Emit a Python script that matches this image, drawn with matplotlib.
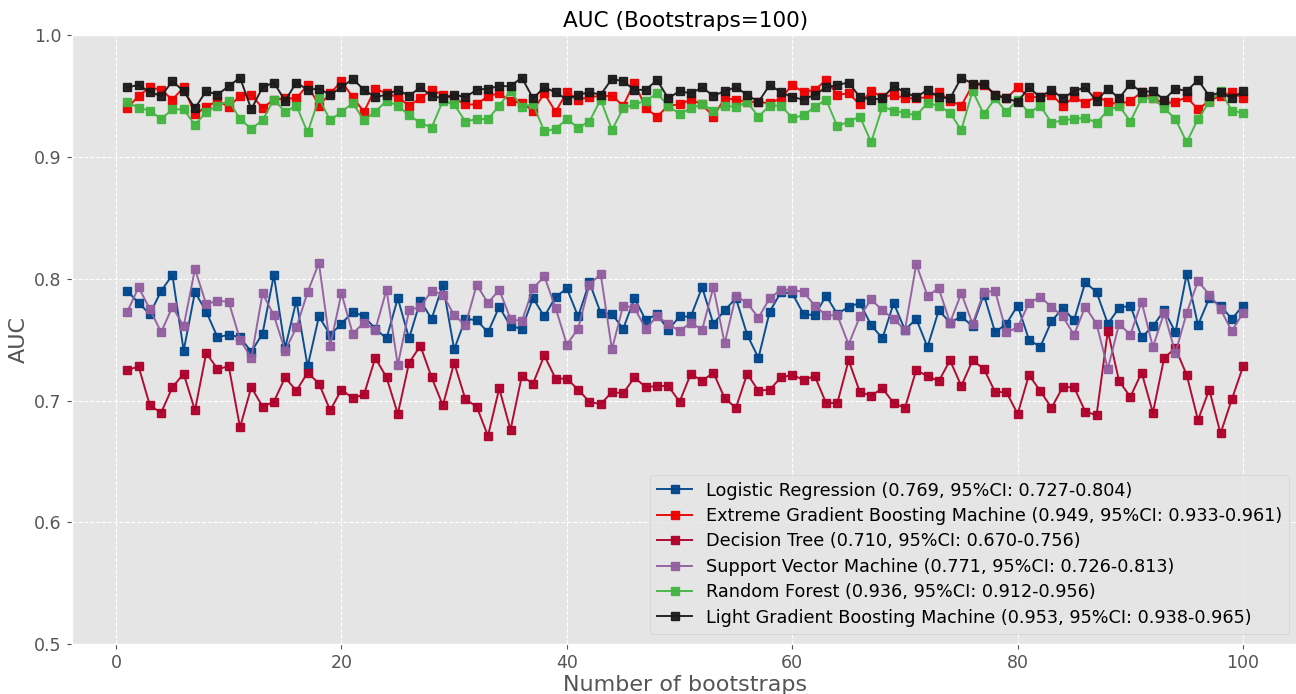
import numpy as np
import matplotlib
matplotlib.use("Agg")
import matplotlib.pyplot as plt
from matplotlib import style

style.use("ggplot")

# bootstrap number
n_boot = np.arange(1, 101)

lr = [0.790, 0.780, 0.771, 0.790, 0.803, 0.741, 0.789, 0.773, 0.752, 0.754, 0.752, 0.740, 0.755, 0.803, 0.743, 0.782, 0.728, 0.769, 0.754, 0.763, 0.773, 0.769, 0.759, 0.751, 0.784,
      0.751, 0.782, 0.767, 0.795, 0.742, 0.767, 0.766, 0.756, 0.777, 0.761, 0.759, 0.784, 0.769, 0.785, 0.792, 0.769, 0.797, 0.772, 0.771, 0.759, 0.784, 0.766, 0.771, 0.758, 0.769,
      0.769, 0.793, 0.763, 0.774, 0.784, 0.754, 0.735, 0.773, 0.789, 0.788, 0.771, 0.770, 0.786, 0.771, 0.777, 0.780, 0.762, 0.751, 0.780, 0.758, 0.767, 0.744, 0.774, 0.764, 0.769,
      0.761, 0.787, 0.756, 0.763, 0.778, 0.750, 0.744, 0.765, 0.776, 0.766, 0.797, 0.789, 0.763, 0.776, 0.778, 0.752, 0.761, 0.774, 0.756, 0.804, 0.762, 0.784, 0.778, 0.767, 0.778]

xgb = [0.940, 0.950, 0.957, 0.955, 0.947, 0.957, 0.935, 0.941, 0.946, 0.941, 0.950, 0.951, 0.940, 0.947, 0.948, 0.948, 0.959, 0.942, 0.952, 0.962, 0.949, 0.937, 0.956, 0.952, 0.949,
       0.942, 0.948, 0.955, 0.951, 0.948, 0.943, 0.943, 0.950, 0.952, 0.946, 0.944, 0.938, 0.952, 0.937, 0.953, 0.947, 0.949, 0.950, 0.950, 0.942, 0.961, 0.940, 0.933, 0.942, 0.943,
       0.947, 0.943, 0.933, 0.948, 0.947, 0.945, 0.945, 0.944, 0.948, 0.959, 0.953, 0.955, 0.963, 0.951, 0.952, 0.943, 0.954, 0.949, 0.951, 0.948, 0.948, 0.949, 0.953, 0.946, 0.942,
       0.959, 0.959, 0.951, 0.948, 0.957, 0.949, 0.949, 0.951, 0.942, 0.949, 0.944, 0.950, 0.945, 0.943, 0.946, 0.953, 0.948, 0.944, 0.945, 0.949, 0.939, 0.946, 0.950, 0.953, 0.948]

dt = [0.725, 0.728, 0.696, 0.690, 0.711, 0.722, 0.692, 0.739, 0.726, 0.728, 0.678, 0.711, 0.695, 0.699, 0.719, 0.708, 0.723, 0.714, 0.692, 0.709, 0.702, 0.705, 0.735, 0.719, 0.689,
      0.731, 0.745, 0.719, 0.696, 0.731, 0.701, 0.695, 0.671, 0.710, 0.676, 0.720, 0.714, 0.737, 0.718, 0.718, 0.709, 0.699, 0.697, 0.707, 0.706, 0.719, 0.711, 0.712, 0.712, 0.699,
      0.722, 0.716, 0.723, 0.702, 0.694, 0.722, 0.708, 0.709, 0.719, 0.721, 0.717, 0.720, 0.698, 0.698, 0.733, 0.707, 0.704, 0.710, 0.698, 0.694, 0.725, 0.720, 0.716, 0.733, 0.712,
      0.733, 0.726, 0.707, 0.707, 0.689, 0.721, 0.708, 0.694, 0.711, 0.711, 0.691, 0.688, 0.757, 0.716, 0.703, 0.723, 0.690, 0.735, 0.743, 0.721, 0.684, 0.709, 0.673, 0.701, 0.728]

svm = [0.773, 0.793, 0.775, 0.756, 0.777, 0.761, 0.808, 0.779, 0.782, 0.781, 0.750, 0.735, 0.788, 0.770, 0.741, 0.760, 0.789, 0.813, 0.745, 0.788, 0.755, 0.764, 0.758, 0.791, 0.729,
       0.774, 0.777, 0.790, 0.787, 0.770, 0.762, 0.795, 0.780, 0.791, 0.767, 0.765, 0.792, 0.802, 0.776, 0.746, 0.759, 0.795, 0.804, 0.742, 0.778, 0.776, 0.759, 0.769, 0.763, 0.757,
       0.764, 0.758, 0.793, 0.747, 0.786, 0.780, 0.768, 0.784, 0.791, 0.791, 0.789, 0.778, 0.770, 0.770, 0.746, 0.769, 0.783, 0.774, 0.767, 0.758, 0.812, 0.786, 0.792, 0.764, 0.788,
       0.763, 0.789, 0.790, 0.756, 0.760, 0.780, 0.785, 0.777, 0.769, 0.754, 0.777, 0.763, 0.726, 0.763, 0.754, 0.781, 0.744, 0.772, 0.739, 0.772, 0.798, 0.787, 0.775, 0.757, 0.772]

rf = [0.945, 0.940, 0.938, 0.931, 0.939, 0.939, 0.926, 0.937, 0.942, 0.946, 0.931, 0.923, 0.930, 0.947, 0.937, 0.942, 0.920, 0.948, 0.930, 0.937, 0.944, 0.930, 0.937, 0.946, 0.942,
      0.934, 0.928, 0.924, 0.946, 0.943, 0.929, 0.931, 0.931, 0.942, 0.954, 0.941, 0.943, 0.921, 0.923, 0.931, 0.924, 0.929, 0.947, 0.922, 0.940, 0.943, 0.946, 0.952, 0.942, 0.935,
      0.940, 0.943, 0.938, 0.942, 0.941, 0.945, 0.933, 0.942, 0.942, 0.932, 0.934, 0.941, 0.947, 0.925, 0.929, 0.933, 0.912, 0.941, 0.938, 0.936, 0.934, 0.944, 0.942, 0.936, 0.922,
      0.954, 0.935, 0.948, 0.937, 0.947, 0.936, 0.942, 0.928, 0.930, 0.931, 0.932, 0.928, 0.938, 0.942, 0.929, 0.948, 0.948, 0.940, 0.931, 0.912, 0.931, 0.945, 0.954, 0.938, 0.936]

lgbm = [0.957, 0.959, 0.953, 0.950, 0.962, 0.954, 0.940, 0.954, 0.951, 0.958, 0.965, 0.939, 0.957, 0.961, 0.946, 0.961, 0.955, 0.956, 0.951, 0.957, 0.964, 0.955, 0.949, 0.951, 0.955,
        0.950, 0.957, 0.950, 0.948, 0.951, 0.949, 0.955, 0.956, 0.958, 0.958, 0.965, 0.948, 0.957, 0.953, 0.947, 0.951, 0.953, 0.951, 0.964, 0.962, 0.955, 0.955, 0.963, 0.948, 0.954,
        0.952, 0.957, 0.950, 0.954, 0.957, 0.951, 0.945, 0.959, 0.953, 0.949, 0.947, 0.951, 0.957, 0.959, 0.961, 0.949, 0.947, 0.948, 0.958, 0.953, 0.949, 0.955, 0.949, 0.948, 0.965,
        0.960, 0.960, 0.951, 0.948, 0.945, 0.957, 0.949, 0.955, 0.948, 0.954, 0.957, 0.946, 0.956, 0.948, 0.960, 0.953, 0.954, 0.947, 0.956, 0.954, 0.963, 0.950, 0.953, 0.948, 0.954]

labels = ["Logistic Regression (0.769, 95%CI: 0.727-0.804)",
          "Extreme Gradient Boosting Machine (0.949, 95%CI: 0.933-0.961)",
          "Decision Tree (0.710, 95%CI: 0.670-0.756)",
          "Support Vector Machine (0.771, 95%CI: 0.726-0.813)",
          "Random Forest (0.936, 95%CI: 0.912-0.956)",
          "Light Gradient Boosting Machine (0.953, 95%CI: 0.938-0.965)"]
colors = ["#00468B", "#ED0000", "#AD002A", "#925E9F", "#42B540", "#1B1919"]
series = [lr, xgb, dt, svm, rf, lgbm]

fig = plt.figure(figsize=(12.96, 6.94), dpi=100)
# axes runs a bit past the right edge of the image, like the original
ax = fig.add_axes([0.0552, 0.0716, 0.947, 0.878])

for vals, lab, col in zip(series, labels, colors):
    ax.plot(n_boot, vals, marker="s", markersize=6, linewidth=1.4,
            color=col, label=lab, alpha=0.95)

ax.set_ylim(0.5, 1.0)
ax.set_yticks([0.5, 0.6, 0.7, 0.8, 0.9, 1.0])
ax.grid(True, linestyle="--", color="white", linewidth=0.8)
ax.tick_params(labelsize=12.5)
ax.set_title("AUC (Bootstraps=100)", fontsize=15.6)
ax.set_xlabel("Number of bootstraps", fontsize=16, labelpad=2)
ax.set_ylabel("AUC", fontsize=16)
ax.legend(loc="lower right", fontsize=12.7, handlelength=2, labelspacing=0.42,
          bbox_to_anchor=(1.001, 0.0), borderaxespad=0.6)

plt.savefig("out.png", dpi=100)
